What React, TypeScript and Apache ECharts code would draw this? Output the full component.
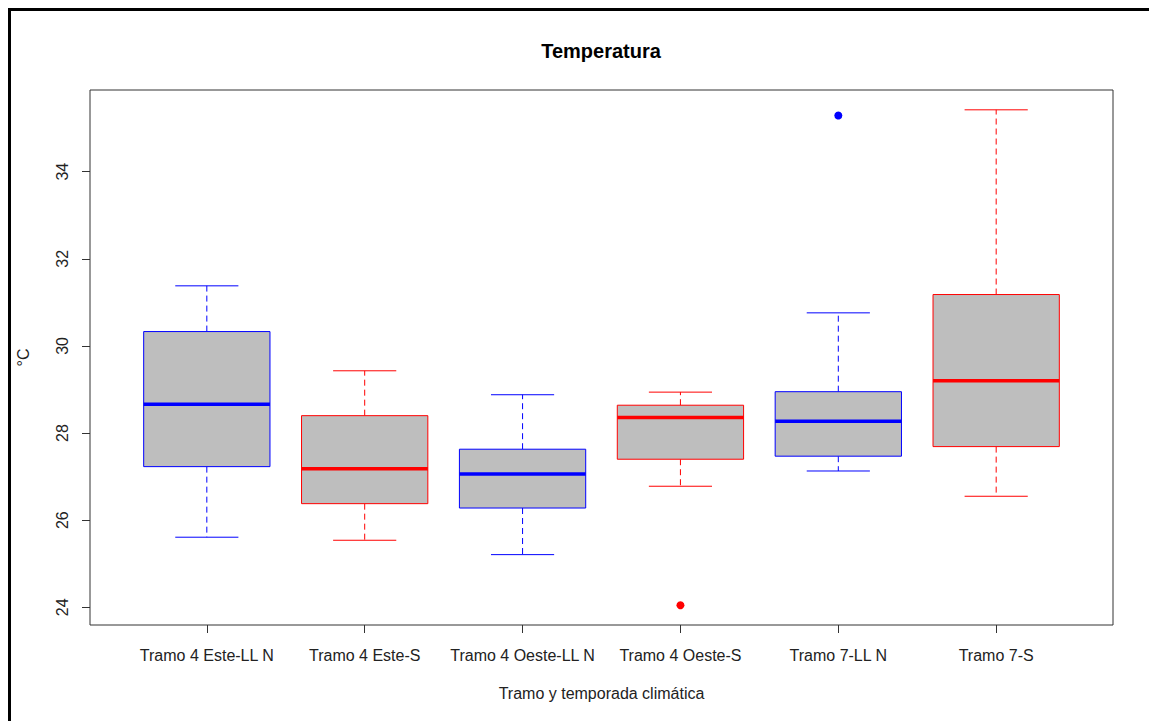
import React, { useEffect, useRef } from "react";
import * as echarts from "echarts";

const categories = [
  "Tramo 4 Este-LL N",
  "Tramo 4 Este-S",
  "Tramo 4 Oeste-LL N",
  "Tramo 4 Oeste-S",
  "Tramo 7-LL N",
  "Tramo 7-S",
];
const lowerWhisker = [25.61, 25.54, 25.21, 26.78, 27.13, 26.55];
const q1 = [27.23, 26.38, 26.28, 27.4, 27.47, 27.69];
const median = [28.66, 27.18, 27.06, 28.36, 28.27, 29.2];
const q3 = [30.33, 28.4, 27.63, 28.64, 28.95, 31.18];
const upperWhisker = [31.38, 29.43, 28.88, 28.94, 30.76, 35.42];
const boxColors = ["#0000FF", "#FF0000", "#0000FF", "#FF0000", "#0000FF", "#FF0000"];
// outliers: [category position (1-based), value]
const outlierPos = [4, 5];
const outlierValues = [24.05, 35.29];
const yTicks = [24, 26, 28, 30, 32, 34];
const xTicks = [1, 2, 3, 4, 5, 6];

const FONT = "'Liberation Sans', Arial, sans-serif";

export default function App() {
  const ref = useRef<HTMLDivElement>(null);
  useEffect(() => {
    if (!ref.current) return;
    const chart = echarts.init(ref.current, undefined, { renderer: "svg" });
    const boxData = categories.map((_, i) => [
      i + 1,
      lowerWhisker[i],
      q1[i],
      median[i],
      q3[i],
      upperWhisker[i],
    ]);
    const option: any = {
      animation: false,
      backgroundColor: "#ffffff",
      textStyle: { fontFamily: FONT },
      grid: {
        left: 90,
        top: 90,
        width: 1023,
        height: 535,
        show: true,
        borderColor: "#333",
        borderWidth: 1,
        backgroundColor: "transparent",
      },
      graphic: [
        {
          type: "rect",
          shape: { x: 9.5, y: 9.5, width: 1400, height: 1000 },
          style: { fill: "none", stroke: "#000", lineWidth: 3 },
          silent: true,
        },
        {
          type: "text",
          x: 601,
          y: 51,
          style: {
            text: "Temperatura",
            font: `bold 20px ${FONT}`,
            fill: "#000",
            textAlign: "center",
            textVerticalAlign: "middle",
          },
        },
      ],
      xAxis: {
        type: "value",
        min: 0.26,
        max: 6.74,
        name: "Tramo y temporada climática",
        nameLocation: "middle",
        nameGap: 60,
        nameTextStyle: { fontSize: 16, color: "#222", fontFamily: FONT },
        axisLine: { show: false },
        splitLine: { show: false },
        axisTick: {
          show: true,
          length: 8,
          customValues: xTicks,
          lineStyle: { color: "#333" },
        },
        axisLabel: {
          customValues: xTicks,
          formatter: (v: number) => categories[Math.round(v) - 1] ?? "",
          fontSize: 16,
          color: "#222",
          margin: 22,
          fontFamily: FONT,
        },
      },
      yAxis: {
        type: "value",
        min: 23.595,
        max: 35.875,
        name: "°C",
        nameLocation: "middle",
        nameGap: 59,
        nameRotate: 90,
        nameTextStyle: { fontSize: 16, color: "#222", fontFamily: FONT },
        axisLine: { show: false },
        splitLine: { show: false },
        axisTick: {
          show: true,
          length: 8,
          customValues: yTicks,
          lineStyle: { color: "#333" },
        },
        axisLabel: {
          customValues: yTicks,
          rotate: 90,
          fontSize: 16,
          color: "#222",
          margin: 20,
          fontFamily: FONT,
        },
      },
      series: [
        {
          type: "custom",
          data: boxData,
          encode: { x: 0, y: [1, 2, 3, 4, 5] },
          renderItem: (params: any, api: any) => {
            const x = api.value(0);
            const lo = api.value(1);
            const b1 = api.value(2);
            const md = api.value(3);
            const b3 = api.value(4);
            const hi = api.value(5);
            const color = boxColors[params.dataIndex];
            const pLo = api.coord([x, lo]);
            const pQ1 = api.coord([x, b1]);
            const pMd = api.coord([x, md]);
            const pQ3 = api.coord([x, b3]);
            const pHi = api.coord([x, hi]);
            const halfBox = api.size([0.4, 0])[0];
            const halfCap = halfBox / 2;
            const cx = pMd[0];
            const dash = { stroke: color, lineWidth: 1, lineDash: [6, 4] };
            const solid = { stroke: color, lineWidth: 1 };
            return {
              type: "group",
              children: [
                {
                  type: "line",
                  shape: { x1: cx, y1: pQ3[1], x2: cx, y2: pHi[1] },
                  style: dash,
                },
                {
                  type: "line",
                  shape: { x1: cx, y1: pQ1[1], x2: cx, y2: pLo[1] },
                  style: dash,
                },
                {
                  type: "line",
                  shape: { x1: cx - halfCap, y1: pHi[1], x2: cx + halfCap, y2: pHi[1] },
                  style: solid,
                },
                {
                  type: "line",
                  shape: { x1: cx - halfCap, y1: pLo[1], x2: cx + halfCap, y2: pLo[1] },
                  style: solid,
                },
                {
                  type: "rect",
                  shape: {
                    x: cx - halfBox,
                    y: pQ3[1],
                    width: halfBox * 2,
                    height: pQ1[1] - pQ3[1],
                  },
                  style: { fill: "#BEBEBE", stroke: color, lineWidth: 1 },
                },
                {
                  type: "line",
                  shape: { x1: cx - halfBox, y1: pMd[1], x2: cx + halfBox, y2: pMd[1] },
                  style: { stroke: color, lineWidth: 3.5 },
                },
              ],
            };
          },
        },
        {
          type: "scatter",
          symbol: "circle",
          symbolSize: 8,
          itemStyle: { opacity: 1 },
          data: outlierPos.map((p, i) => ({
            value: [p, outlierValues[i]],
            itemStyle: { color: boxColors[p - 1], opacity: 1 },
          })),
        },
      ],
    };
    chart.setOption(option);
    return () => chart.dispose();
  }, []);
  return (
    <div
      ref={ref}
      style={{
        position: "absolute",
        left: 0,
        top: 0,
        width: 1149,
        height: 721,
        background: "#fff",
      }}
    />
  );
}
